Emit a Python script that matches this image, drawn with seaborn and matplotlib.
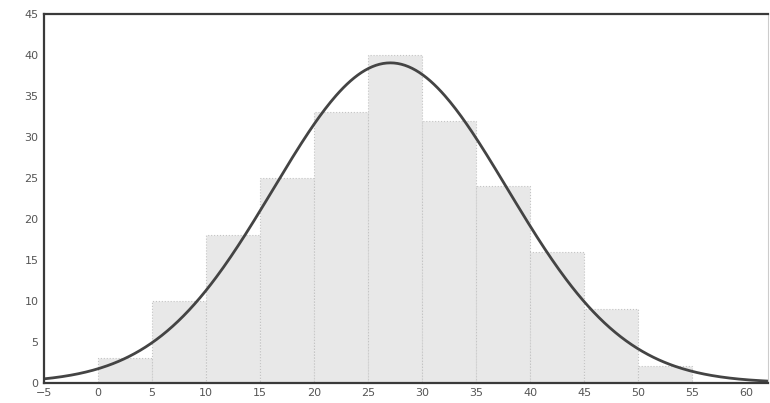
import numpy as np
import pandas as pd
import matplotlib
matplotlib.use("Agg")
import matplotlib.pyplot as plt
import seaborn as sns

# histogram bins (width 5) and counts
binEdges = [0, 5, 10, 15, 20, 25, 30, 35, 40, 45, 50, 55]
binCounts = [3, 10, 18, 25, 33, 40, 32, 24, 16, 9, 2]
xTicks = [-5, 0, 5, 10, 15, 20, 25, 30, 35, 40, 45, 50, 55, 60]
yTicks = [0, 5, 10, 15, 20, 25, 30, 35, 40, 45]

binMids = [(a + b) / 2 for a, b in zip(binEdges[:-1], binEdges[1:])]
dfBins = pd.DataFrame({'mid': binMids, 'count': binCounts})

# fitted normal curve from the binned data
total = sum(binCounts)
mu = np.average(binMids, weights=binCounts)
sigma = np.sqrt(np.average((np.array(binMids) - mu) ** 2, weights=binCounts))
xs = np.linspace(-5, 62, 400)
ys = total * 5 / (sigma * np.sqrt(2 * np.pi)) * np.exp(-0.5 * ((xs - mu) / sigma) ** 2)
dfCurve = pd.DataFrame({'x': xs, 'y': ys})

sns.set_style("white")
plt.rcParams['font.family'] = ['DejaVu Sans']

fig = plt.figure(figsize=(7.7, 4.03), dpi=100)
ax = fig.add_axes([0.057, 0.05, 0.94, 0.915])

sns.histplot(data=dfBins, x='mid', weights='count', bins=binEdges, ax=ax,
             color='#e8e8e8', alpha=1, edgecolor='#c4c4c4', linewidth=0.8,
             linestyle=':')
sns.lineplot(data=dfCurve, x='x', y='y', ax=ax, color='#444444', linewidth=2)

ax.set_xlim(-5, 62)
ax.set_ylim(0, 45)
ax.set_xticks(xTicks)
ax.set_yticks(yTicks)
ax.set_xlabel('')
ax.set_ylabel('')
ax.tick_params(axis='both', labelsize=8, colors='#555555', length=2, pad=2)
for s in ax.spines.values():
    s.set_color('#3a3a3a')
    s.set_linewidth(1.6)
ax.spines['right'].set_color('#cccccc')
ax.spines['right'].set_linewidth(0.8)

fig.savefig('out.png', dpi=100)
